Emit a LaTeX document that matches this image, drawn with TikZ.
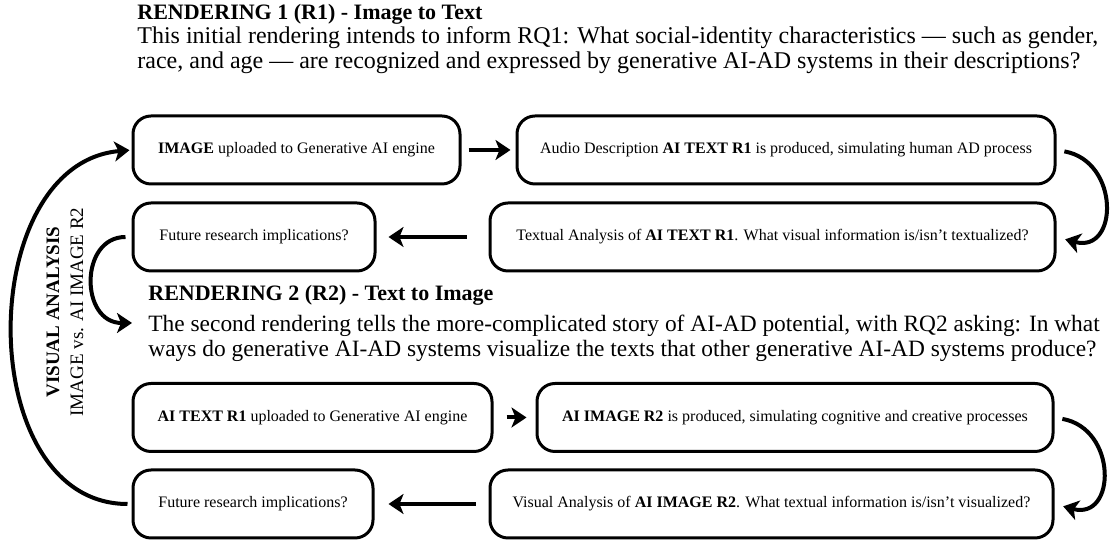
\documentclass[tikz,border=0pt]{standalone}
\usepackage{fontspec}
\setmainfont{Liberation Serif}
\usetikzlibrary{arrows.meta}

\tikzset{
  stage/.style={draw, line width=1.5pt, rounded corners=9pt, minimum height=34pt,
    inner sep=2pt, font=\fontsize{8}{9.6}\selectfont},
  flow/.style={-{Stealth[length=7.5pt,width=10pt,inset=2pt]}, line width=2pt},
  line/.style={anchor=base west, inner sep=0pt, font=\fontsize{12}{14}\selectfont},
  headline/.style={line, font=\fontsize{11}{12.5}\selectfont\bfseries}
}

\begin{document}
\begin{tikzpicture}[x=0.5pt, y=0.5pt]
  \useasboundingbox (0,0) rectangle (1116,540);

  % rendering 1
  \node [headline] (r1head) at (137,520) {RENDERING 1 (R1) - Image to Text};
  \node [line] (r1q1) at (137,496) {This initial rendering intends to inform RQ1: What social-identity characteristics — such as gender,};
  \node [line] (r1q2) at (137,471) {race, and age — are recognized and expressed by generative AI-AD systems in their descriptions?};

  \node [stage, minimum width=163.5pt] (upload1) at (296.5,390) {\textbf{IMAGE} uploaded to Generative AI engine};
  \node [stage, minimum width=269pt] (text1) at (786,390) {Audio Description \textbf{AI TEXT R1} is produced, simulating human AD process};
  \node [stage, minimum width=121pt] (future1) at (254,303) {Future research implications?};
  \node [stage, minimum width=282.5pt] (analysis1) at (772.5,303) {Textual Analysis of \textbf{AI TEXT R1}. What visual information is/isn't textualized?};

  % rendering 2
  \node [headline] (r2head) at (148,239) {RENDERING 2 (R2) - Text to Image};
  \node [line, font=\fontsize{11.7}{14}\selectfont] (r2q1) at (148,208) {The second rendering tells the more-complicated story of AI-AD potential, with RQ2 asking: In what};
  \node [line, font=\fontsize{11.7}{14}\selectfont] (r2q2) at (148,183) {ways do generative AI-AD systems visualize the texts that other generative AI-AD systems produce?};
  \coordinate (r2in) at (132,217);

  \node [stage, minimum width=179.5pt] (upload2) at (312.5,122.5) {\textbf{AI TEXT R1} uploaded to Generative AI engine};
  \node [stage, minimum width=258pt] (image2) at (795,122.5) {\textbf{AI IMAGE R2} is produced, simulating cognitive and creative processes};
  \node [stage, minimum width=120pt] (future2) at (253,36) {Future research implications?};
  \node [stage, minimum width=281.5pt] (analysis2) at (771.5,36) {Visual Analysis of \textbf{AI IMAGE R2}. What textual information is/isn't visualized?};

  \node [rotate=90, align=center, inner sep=0pt, font=\fontsize{9.5}{12}\selectfont] (va) at (65,228)
    {\textbf{VISUAL ANALYSIS}\\IMAGE vs. AI IMAGE R2};

  % connectors
  \draw [flow, shorten <=3.5pt, shorten >=2.5pt] (upload1) -- (text1);
  \draw [flow, shorten <=4pt, shorten >=4.5pt] (text1.east) to[out=-10, in=-15, looseness=1.9] (analysis1.east);
  \draw [flow, shorten <=11pt, shorten >=6pt] (analysis1) -- (future1);
  \draw [flow, shorten <=3pt] (future1.west) to[out=180, in=180, looseness=1.55] (r2in);
  \draw [flow, shorten <=6.5pt, shorten >=4.5pt] (upload2) -- (image2);
  \draw [flow, shorten <=4pt, shorten >=4.5pt] (image2.east) to[out=-10, in=-15, looseness=1.9] (analysis2.east);
  \draw [flow, shorten <=6.5pt, shorten >=7pt] (analysis2) -- (future2);
  \draw [flow, shorten <=2pt, shorten >=1pt] (future2.west) to[out=180, in=185, looseness=1.15] (upload1.west);
\end{tikzpicture}
\end{document}
